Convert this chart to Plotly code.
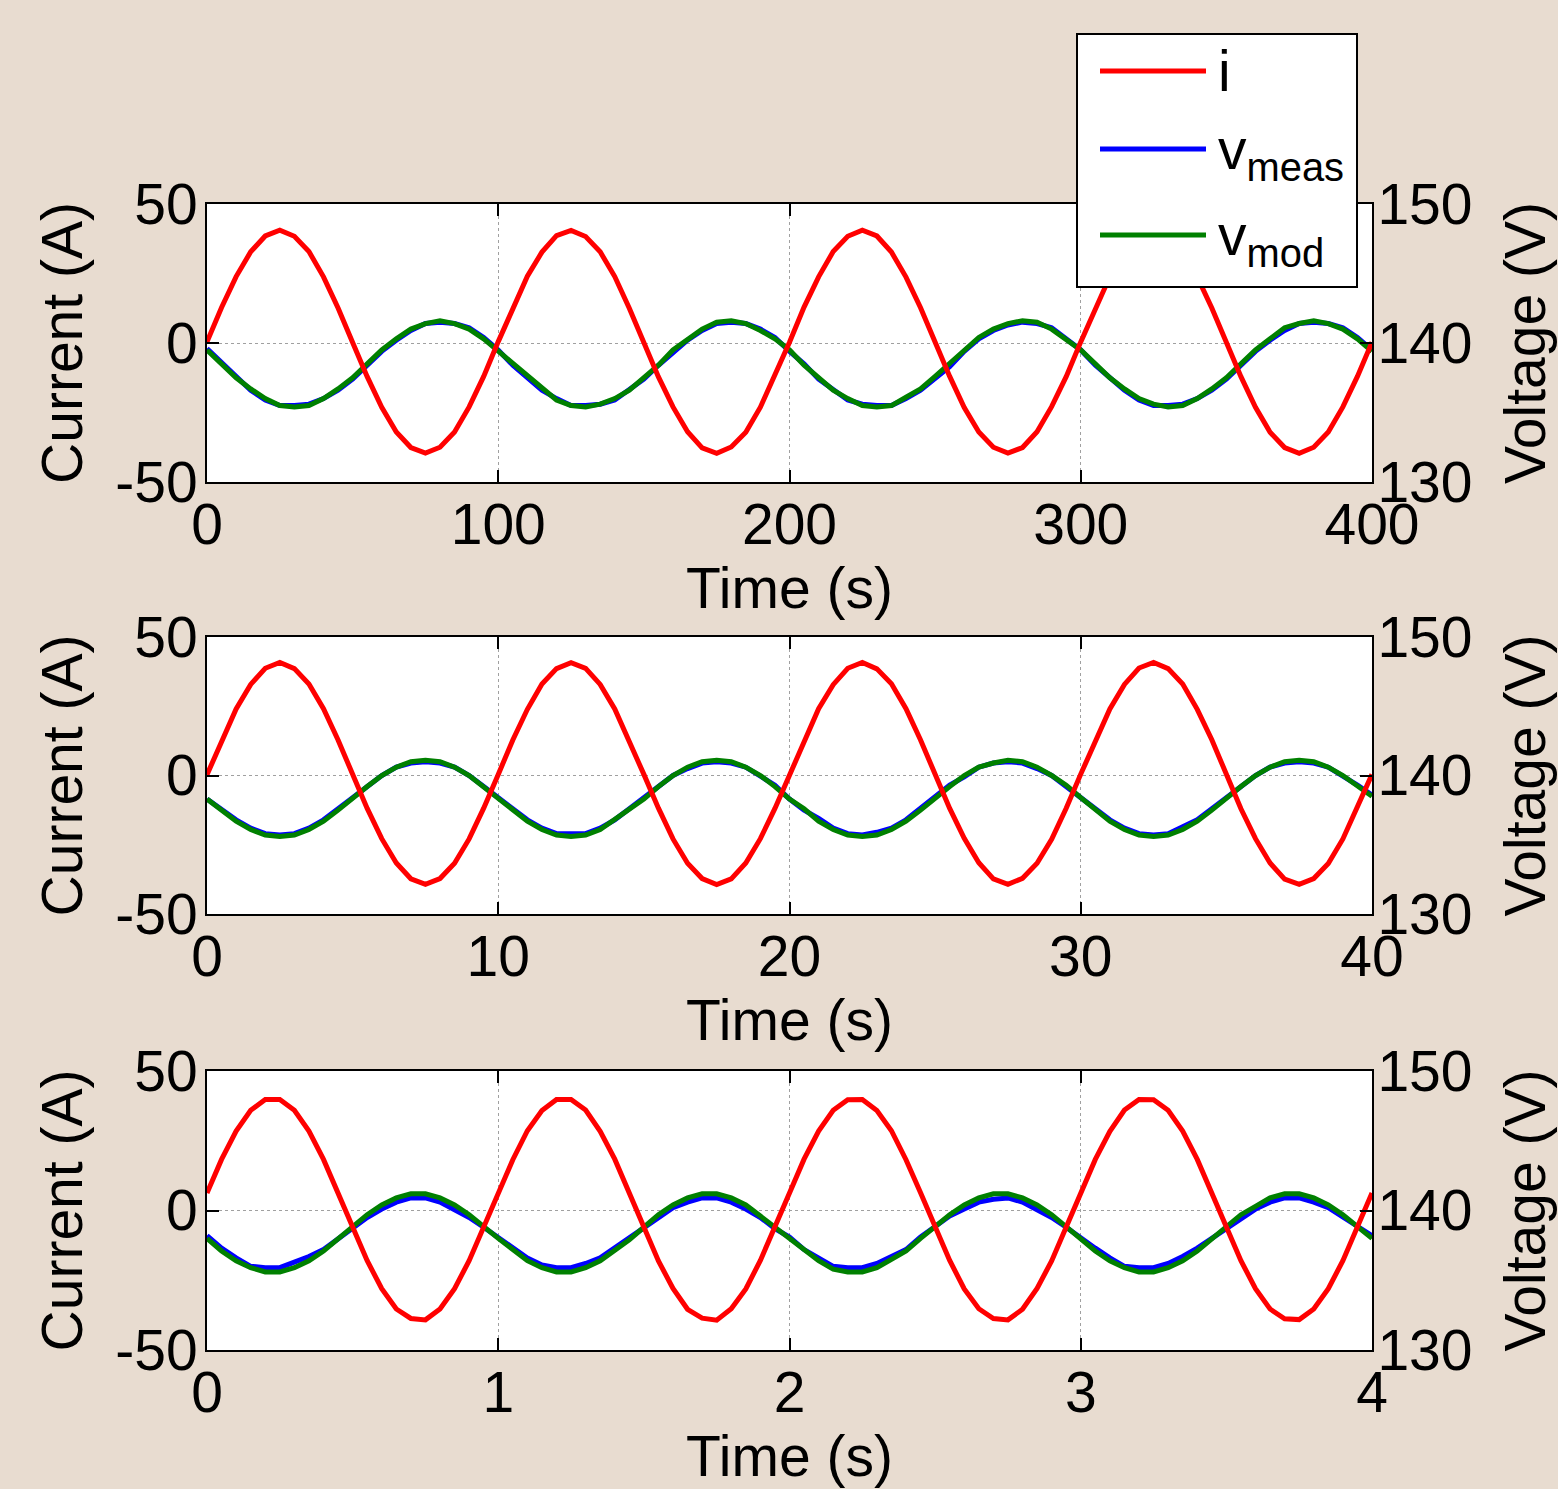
import plotly.graph_objects as go

# ---------------- data ----------------
# Panel 1: 0-400 s, sampled every 5 s
dt1 = 5.0
i1 = [0.4, 12.8, 23.9, 32.8, 38.5, 40.6, 38.4, 32.9, 23.8, 12.6, 0.2, -12.1, -23.1, -32.0, -37.6, -39.6, -37.5, -32.0, -23.0, -12.0,
      0.5, 12.6, 24.0, 32.7, 38.6, 40.5, 38.3, 32.8, 23.9, 12.5, 0.3, -12.2, -23.0, -31.9, -37.7, -39.7, -37.4, -32.1, -23.1, -11.9,
      0.3, 12.9, 23.8, 32.9, 38.4, 40.6, 38.5, 32.7, 23.7, 12.7, 0.1, -12.0, -23.2, -32.0, -37.5, -39.6, -37.6, -31.9, -22.9, -12.1,
      0.4, 12.7, 23.9, 32.8, 38.5, 40.5, 38.4, 32.8, 23.8, 12.6, 0.2, -12.1, -23.1, -32.1, -37.6, -39.7, -37.5, -32.0, -23.0, -12.0,
      0.3]
vmod1 = [139.5, 138.5, 137.5, 136.7, 136.0, 135.5, 135.4, 135.5, 136.0, 136.7, 137.5, 138.5, 139.5, 140.3, 141.0, 141.4, 141.6, 141.4, 141.0, 140.3,
         139.4, 138.5, 137.6, 136.7, 135.9, 135.5, 135.4, 135.6, 136.0, 136.6, 137.5, 138.4, 139.5, 140.3, 141.0, 141.5, 141.6, 141.4, 140.9, 140.3,
         139.5, 138.4, 137.5, 136.6, 136.0, 135.5, 135.4, 135.5, 136.1, 136.7, 137.6, 138.5, 139.4, 140.4, 141.0, 141.4, 141.6, 141.5, 141.0, 140.2,
         139.5, 138.5, 137.5, 136.7, 136.0, 135.6, 135.4, 135.5, 136.0, 136.7, 137.5, 138.5, 139.5, 140.3, 141.1, 141.4, 141.6, 141.4, 141.0, 140.3,
         139.4]
vmeas1 = [139.6, 138.6, 137.5, 136.6, 135.9, 135.5, 135.5, 135.6, 136.0, 136.6, 137.4, 138.4, 139.4, 140.2, 140.9, 141.4, 141.5, 141.4, 141.1, 140.4,
          139.5, 138.4, 137.5, 136.6, 136.0, 135.5, 135.5, 135.6, 135.9, 136.6, 137.4, 138.4, 139.3, 140.2, 140.9, 141.4, 141.5, 141.4, 141.0, 140.4,
          139.4, 138.5, 137.4, 136.7, 135.9, 135.6, 135.5, 135.5, 136.0, 136.6, 137.5, 138.3, 139.4, 140.3, 140.9, 141.3, 141.5, 141.4, 141.1, 140.3,
          139.5, 138.4, 137.5, 136.6, 135.9, 135.5, 135.5, 135.6, 136.0, 136.6, 137.4, 138.4, 139.4, 140.2, 140.9, 141.4, 141.5, 141.4, 141.1, 140.4,
          139.5]

# Panel 2: 0-40 s, sampled every 0.5 s
dt2 = 0.5
i2 = [0.3, 12.7, 24.0, 32.9, 38.7, 40.8, 38.6, 33.0, 24.1, 12.8, 0.5, -11.9, -22.8, -31.6, -37.3, -39.3, -37.2, -31.7, -22.9, -11.8,
      0.4, 12.8, 23.9, 33.0, 38.6, 40.7, 38.7, 32.9, 24.0, 12.7, 0.4, -11.8, -22.9, -31.7, -37.2, -39.4, -37.3, -31.6, -22.8, -11.9,
      0.3, 12.6, 24.1, 32.8, 38.7, 40.8, 38.5, 33.1, 24.1, 12.8, 0.6, -11.9, -22.7, -31.5, -37.3, -39.3, -37.1, -31.7, -23.0, -11.8,
      0.5, 12.7, 24.0, 32.9, 38.8, 40.8, 38.6, 33.0, 23.9, 12.9, 0.5, -12.0, -22.8, -31.6, -37.4, -39.3, -37.2, -31.8, -22.9, -11.7,
      0.4]
vmod2 = [138.3, 137.5, 136.7, 136.1, 135.7, 135.6, 135.7, 136.1, 136.7, 137.5, 138.4, 139.2, 140.0, 140.6, 141.0, 141.1, 141.0, 140.6, 140.0, 139.2,
         138.4, 137.5, 136.7, 136.1, 135.7, 135.6, 135.7, 136.1, 136.8, 137.5, 138.3, 139.2, 140.0, 140.6, 141.0, 141.1, 141.0, 140.6, 140.0, 139.2,
         138.3, 137.6, 136.7, 136.1, 135.7, 135.6, 135.7, 136.1, 136.7, 137.5, 138.4, 139.2, 140.0, 140.6, 140.9, 141.1, 141.0, 140.6, 140.0, 139.3,
         138.4, 137.5, 136.7, 136.1, 135.7, 135.6, 135.7, 136.1, 136.7, 137.5, 138.4, 139.2, 140.0, 140.6, 141.0, 141.1, 141.0, 140.6, 140.0, 139.2,
         138.5]
vmeas2 = [138.3, 137.5, 136.8, 136.2, 135.8, 135.7, 135.8, 136.2, 136.8, 137.6, 138.4, 139.3, 140.0, 140.6, 140.9, 141.0, 140.9, 140.6, 140.0, 139.2,
          138.4, 137.6, 136.8, 136.2, 135.8, 135.8, 135.8, 136.2, 136.8, 137.6, 138.4, 139.2, 140.0, 140.5, 140.9, 141.0, 140.9, 140.6, 140.0, 139.3,
          138.3, 137.5, 136.9, 136.2, 135.8, 135.7, 135.9, 136.2, 136.8, 137.6, 138.5, 139.3, 139.9, 140.6, 140.9, 141.0, 140.9, 140.5, 140.0, 139.2,
          138.4, 137.6, 136.8, 136.2, 135.8, 135.7, 135.8, 136.3, 136.8, 137.6, 138.4, 139.3, 140.0, 140.6, 140.9, 141.0, 140.9, 140.6, 140.0, 139.3,
          138.6]

# Panel 3: 0-4 s, sampled every 0.05 s
dt3 = 0.05
i3 = [6.3, 18.3, 28.5, 35.9, 39.8, 39.8, 35.9, 28.5, 18.3, 6.3, -6.2, -18.0, -28.0, -35.3, -38.7, -39.2, -35.3, -28.0, -18.0, -6.2,
      6.4, 18.2, 28.6, 35.8, 39.8, 39.8, 36.0, 28.4, 18.4, 6.2, -6.1, -18.1, -27.9, -35.4, -38.6, -39.3, -35.2, -28.1, -17.9, -6.3,
      6.3, 18.4, 28.5, 35.9, 39.7, 39.8, 35.8, 28.6, 18.2, 6.4, -6.3, -17.9, -28.1, -35.2, -38.7, -39.2, -35.4, -27.9, -18.1, -6.1,
      6.2, 18.3, 28.4, 36.0, 39.8, 39.7, 35.9, 28.5, 18.3, 6.3, -6.2, -18.0, -28.0, -35.3, -38.8, -39.1, -35.3, -28.0, -18.0, -6.2,
      6.3]
vmod3 = [138.0, 137.1, 136.4, 135.9, 135.6, 135.6, 135.9, 136.4, 137.1, 138.0, 138.8, 139.7, 140.4, 140.9, 141.2, 141.2, 140.9, 140.4, 139.7, 138.8,
         138.0, 137.2, 136.4, 135.9, 135.6, 135.6, 135.9, 136.4, 137.1, 137.9, 138.8, 139.7, 140.4, 140.9, 141.2, 141.2, 140.9, 140.4, 139.6, 138.8,
         138.0, 137.1, 136.4, 135.8, 135.6, 135.6, 135.9, 136.5, 137.1, 138.0, 138.9, 139.7, 140.4, 140.9, 141.2, 141.2, 140.9, 140.4, 139.7, 138.8,
         137.9, 137.1, 136.4, 135.9, 135.6, 135.6, 135.9, 136.4, 137.1, 138.0, 138.8, 139.7, 140.3, 140.9, 141.2, 141.2, 140.9, 140.4, 139.7, 138.9,
         138.0]
vmeas3 = [138.2, 137.3, 136.6, 136.0, 135.9, 135.9, 136.3, 136.7, 137.2, 138.0, 138.8, 139.5, 140.1, 140.6, 140.9, 140.9, 140.6, 140.1, 139.5, 138.8,
          138.1, 137.3, 136.6, 136.1, 135.9, 135.9, 136.2, 136.6, 137.3, 138.0, 138.8, 139.5, 140.2, 140.6, 140.9, 140.9, 140.6, 140.1, 139.5, 138.7,
          138.1, 137.2, 136.6, 136.0, 135.9, 135.9, 136.2, 136.7, 137.2, 138.1, 138.8, 139.6, 140.1, 140.6, 140.8, 140.9, 140.6, 140.1, 139.5, 138.8,
          138.0, 137.3, 136.6, 136.0, 135.9, 135.9, 136.2, 136.7, 137.3, 138.0, 138.7, 139.5, 140.1, 140.6, 140.9, 140.9, 140.6, 140.2, 139.5, 138.8,
          138.2]

xmax = [400, 40, 4]
xticks = [[0, 100, 200, 300, 400], [0, 10, 20, 30, 40], [0, 1, 2, 3, 4]]
ileft_ticks = [-50, 0, 50]
ileft_labels = ["-50", "0", "50"]
vright_ticks = [130, 140, 150]
series_names = ["i", "v<sub>meas</sub>", "v<sub>mod</sub>"]
colors = ["#FF0000", "#0000FF", "#008000"]

panels = [(dt1, i1, vmeas1, vmod1), (dt2, i2, vmeas2, vmod2), (dt3, i3, vmeas3, vmod3)]

# ---------------- layout helpers ----------------
W, H = 1558, 1489
BG = "#E8DCD0"
FONT = "Liberation Sans, Arial, sans-serif"
FS = 57

def px(x):
    return x / W

def py(y):
    return 1 - y / H

plot_x = (207, 1372)
plot_y = [(204, 482), (637, 914), (1071, 1350)]

fig = go.Figure()
layout = dict(
    width=W, height=H, paper_bgcolor=BG, plot_bgcolor="white",
    margin=dict(l=0, r=0, t=0, b=0, autoexpand=False), showlegend=False,
    font=dict(family=FONT, size=FS, color="black"),
)

for k, (dt, ii, vm, vd) in enumerate(panels):
    t = [n * dt for n in range(len(ii))]
    xa = "x" if k == 0 else f"x{k+1}"
    yv = f"y{2*k+1}" if k > 0 else "y"       # voltage (base, right side)
    yi = f"y{2*k+2}"                          # current (overlay, left side)
    fig.add_trace(go.Scatter(x=t, y=vm, xaxis=xa, yaxis=yv, mode="lines",
                             line=dict(color=colors[1], width=5), name=series_names[1]))
    fig.add_trace(go.Scatter(x=t, y=vd, xaxis=xa, yaxis=yv, mode="lines",
                             line=dict(color=colors[2], width=5), name=series_names[2]))
    fig.add_trace(go.Scatter(x=t, y=ii, xaxis=xa, yaxis=yi, mode="lines",
                             line=dict(color=colors[0], width=5), name=series_names[0]))

    y0, y1 = plot_y[k]
    dom_y = [py(y1), py(y0)]
    xname = "xaxis" if k == 0 else f"xaxis{k+1}"
    yvname = "yaxis" if k == 0 else f"yaxis{2*k+1}"
    yiname = f"yaxis{2*k+2}"
    yv_id = "y" if k == 0 else f"y{2*k+1}"
    layout[xname] = dict(
        domain=[px(plot_x[0]), px(plot_x[1])], anchor=yv_id, range=[0, xmax[k]],
        tickvals=xticks[k], ticks="inside", ticklen=12, tickwidth=2, tickcolor="black",
        showline=True, linecolor="black", linewidth=2, mirror="ticks",
        showgrid=True, gridcolor="#A0A0A0", griddash="dot", gridwidth=1,
        zeroline=False, ticklabelstandoff=-8, automargin=False,
        title=dict(text="Time (s)", standoff=12, font=dict(size=FS)),
        tickfont=dict(size=FS),
    )
    layout[yvname] = dict(
        domain=dom_y, anchor=xa, side="right", range=[130, 150],
        tickvals=vright_ticks, ticks="inside", ticklen=12, tickwidth=2, tickcolor="black",
        showline=True, linecolor="black", linewidth=2,
        showgrid=True, gridcolor="#A0A0A0", griddash="dot", gridwidth=1,
        zeroline=False, ticklabelstandoff=-8, automargin=False,
        title=dict(text="Voltage (V)", standoff=34, font=dict(size=FS)),
        tickfont=dict(size=FS),
    )
    layout[yiname] = dict(
        overlaying=yv_id, anchor=xa, side="left", range=[-50, 50],
        tickvals=ileft_ticks, ticktext=ileft_labels, ticks="inside", ticklen=12, tickwidth=2, tickcolor="black",
        showline=True, linecolor="black", linewidth=2,
        showgrid=False, zeroline=False, ticklabelstandoff=-4, automargin=False,
        title=dict(text="Current (A)", standoff=14, font=dict(size=FS)),
        tickfont=dict(size=FS),
    )

# ---------------- manual legend box ----------------
shapes = [dict(type="rect", xref="paper", yref="paper",
               x0=px(1077), x1=px(1357), y0=py(287), y1=py(34),
               fillcolor="white", line=dict(color="black", width=2), layer="above")]
legend_rows = [71, 149, 235]
annotations = []
for row, name, col in zip(legend_rows, series_names, colors):
    shapes.append(dict(type="line", xref="paper", yref="paper",
                       x0=px(1100), x1=px(1206), y0=py(row), y1=py(row),
                       line=dict(color=col, width=5), layer="above"))
    annotations.append(dict(xref="paper", yref="paper", x=px(1216), y=py(row + (0 if name == "i" else 4)),
                            xanchor="left", yanchor="middle", showarrow=False,
                            text=name, font=dict(family=FONT, size=FS, color="black")))
layout["shapes"] = shapes
layout["annotations"] = annotations

fig.update_layout(**layout)
fig.write_html("out.html", config={"displayModeBar": False},
               post_script="document.body.style.margin='0';document.body.style.background='%s';" % BG)
